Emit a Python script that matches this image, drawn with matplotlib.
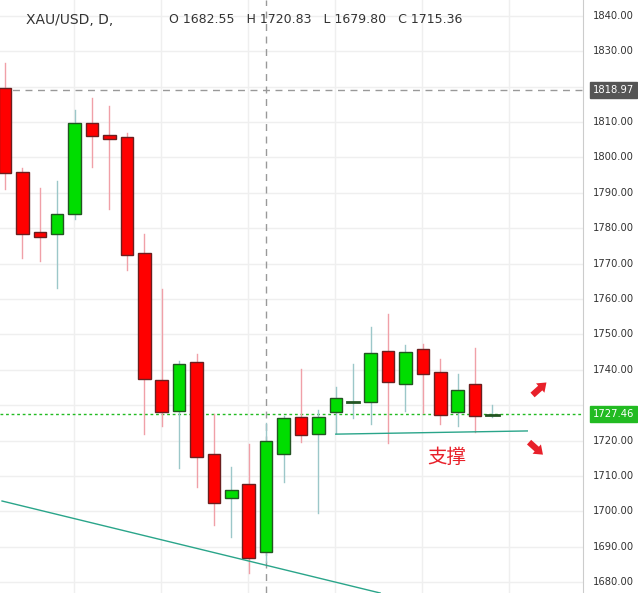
import matplotlib
matplotlib.use("Agg")
import matplotlib.pyplot as plt
from matplotlib.patches import Rectangle

plt.rcParams['font.family'] = ['Noto Sans CJK SC', 'DejaVu Sans']

opens  = [1819.6,1796.0,1778.9,1778.4,1784.0,1809.8,1806.4,1805.8,1772.9,1737.2,1728.3,1742.1,1716.3,1703.7,1707.6,1688.4,
          1716.1,1726.6,1721.8,1728.0,1731.0,1730.8,1745.2,1735.9,1745.8,1739.3,1728.0,1735.9,1727.3]
closes = [1795.7,1778.4,1777.5,1784.0,1809.7,1806.1,1805.2,1772.4,1737.3,1728.0,1741.6,1715.4,1702.4,1705.9,1686.9,1719.9,
          1726.3,1721.5,1726.6,1731.9,1731.2,1744.6,1736.4,1744.9,1738.7,1727.1,1734.2,1726.8,1727.5]
highs  = [1826.8,1797.0,1791.5,1793.4,1813.4,1816.7,1814.6,1807.0,1778.4,1762.9,1742.5,1744.4,1727.5,1712.6,1719.1,1725.0,
          1726.9,1740.2,1728.6,1735.0,1741.6,1752.0,1755.8,1747.0,1747.3,1743.0,1738.8,1746.1,1730.0]
lows   = [1791.0,1771.7,1770.7,1763.0,1782.6,1797.3,1785.4,1768.2,1721.9,1724.1,1712.1,1706.9,1696.0,1692.8,1682.6,1685.7,
          1708.4,1719.7,1699.4,1722.0,1726.3,1724.6,1719.4,1728.4,1727.7,1724.7,1724.2,1722.3,1726.6]
yticks = [1680,1690,1700,1710,1720,1730,1740,1750,1760,1770,1780,1790,1800,1810,1820,1830,1840]
hidden_ticks = [1730, 1820]
last_price = 1727.46
cross_price = 1818.97

fig = plt.figure(figsize=(6.38, 5.93), dpi=100)
ax = fig.add_axes([0, 0, 583/638, 1])
ax.set_xlim(-0.287, 33.2)
ax.set_ylim(1676.9, 1844.5)

for y in yticks:
    ax.axhline(y, color='#efefef', lw=1, zorder=0)
for xv in [4, 9, 14, 19, 24, 29]:
    ax.axvline(xv - 0.04, color='#efefef', lw=1, zorder=0)

w = 0.36
for i, (o, c, h, l) in enumerate(zip(opens, closes, highs, lows)):
    up = c >= o
    wc = '#9cc7c9' if up else '#f0a0a8'
    ax.plot([i, i], [l, h], color=wc, lw=1, zorder=2)
    fc = '#00dd00' if up else '#ff0000'
    ec = '#225522' if up else '#6b1f1f'
    if i in (20, 28):
        ax.plot([i - w, i + w], [o, o], color='#225522', lw=2, zorder=3)
        continue
    ax.add_patch(Rectangle((i - w, min(o, c)), 2 * w, abs(c - o), facecolor=fc,
                           edgecolor=ec, lw=1, zorder=3))

ax.plot([-0.17, 21.55], [1702.9, 1676.9], color='#2aa58a', lw=1, zorder=4)
ax.plot([19.0, 30.0], [1721.8, 1722.7], color='#2aa58a', lw=1, zorder=4)

ax.axhline(last_price, color='#22bb22', lw=1, ls=(0, (2, 2)), zorder=1)
ax.axhline(cross_price, color='#999999', lw=1, ls=(0, (5, 4)), zorder=1)
ax.axvline(15, color='#999999', lw=1, ls=(0, (5, 4)), zorder=1)

ax.text(25.4, 1715.3, '支撑', color='#e8202a', fontsize=14, ha='center', va='center')
arrow = dict(arrowstyle='simple,head_width=0.9,head_length=0.6,tail_width=0.45',
             color='#e8202a', lw=0, shrinkA=0, shrinkB=0)
ax.annotate('', xy=(31.1, 1736.4), xytext=(-10, -9), textcoords='offset points', arrowprops=arrow)
ax.annotate('', xy=(30.9, 1716.0), xytext=(-10, 9), textcoords='offset points', arrowprops=arrow)

ax.set_xticks([])
ax.set_yticks([])
for s in ['top', 'left', 'bottom']:
    ax.spines[s].set_visible(False)
ax.spines['right'].set_color('#cccccc')

for y in yticks:
    if y in hidden_ticks:
        continue
    ax.annotate(f'{y:.2f}', xy=(1, y), xycoords=('axes fraction', 'data'), xytext=(7, 0),
                textcoords='offset points', fontsize=7.2, color='#333333', va='center',
                family='DejaVu Sans')
for val, col in [(cross_price, '#555555'), (last_price, '#22bb22')]:
    ax.annotate(f'{val:.2f}', xy=(1, val), xycoords=('axes fraction', 'data'), xytext=(7, 0),
                textcoords='offset points', fontsize=7.2, color='white', va='center',
                family='DejaVu Sans', bbox=dict(boxstyle='square,pad=0.3', fc=col, ec=col))

fig.text(0.04, 0.967, 'XAU/USD, D,', fontsize=10, color='#333333', va='center', family='DejaVu Sans')
fig.text(0.265, 0.967, 'O 1682.55   H 1720.83   L 1679.80   C 1715.36', fontsize=9,
         color='#333333', va='center', family='DejaVu Sans')

fig.savefig('out.png', dpi=100)
